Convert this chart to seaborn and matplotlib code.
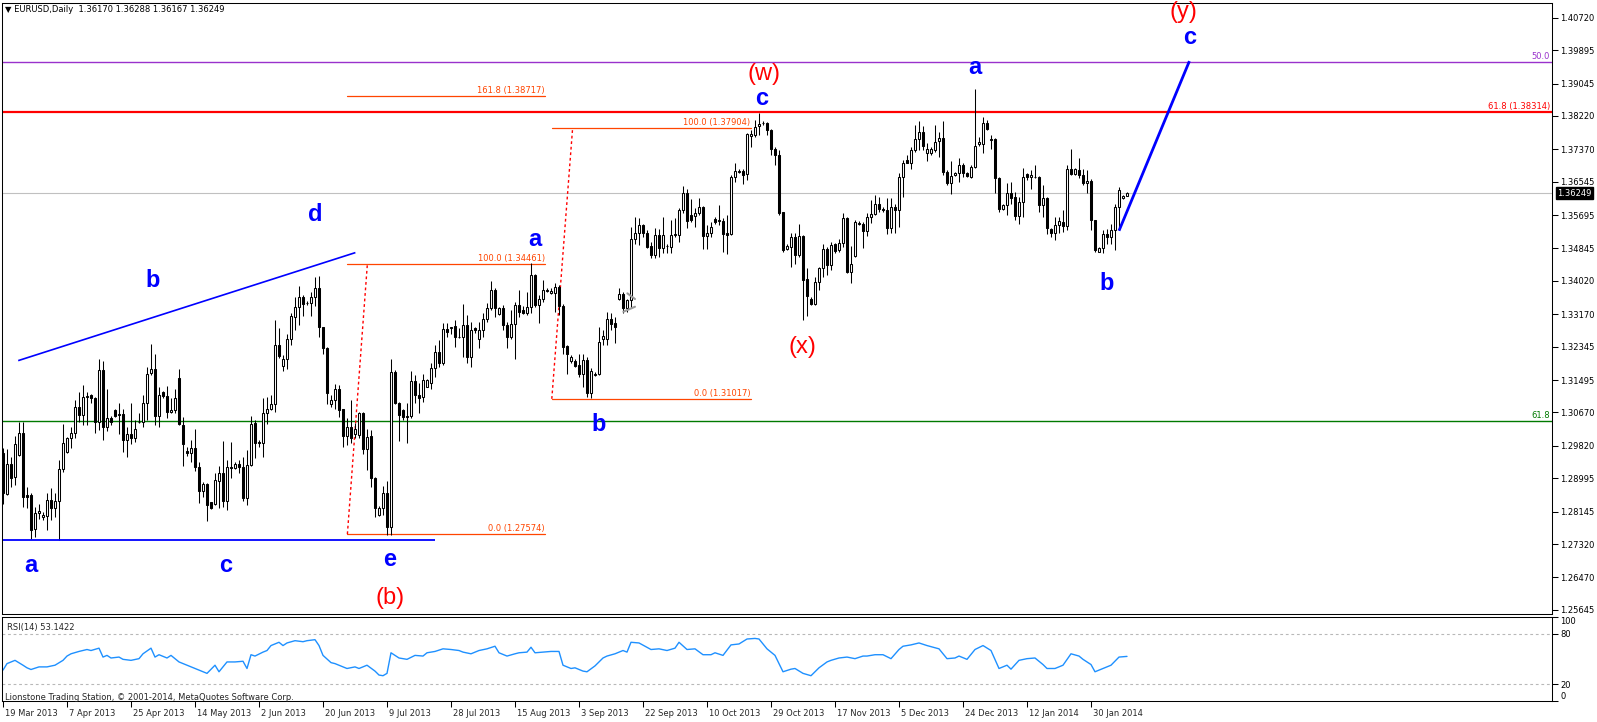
import numpy as np
import matplotlib
matplotlib.use("Agg")
import matplotlib.pyplot as plt
import matplotlib.transforms as mtransforms
import seaborn as sns

sns.set_theme(style="white")
plt.rcParams['font.family'] = ['DejaVu Sans']
plt.rcParams['axes.linewidth'] = 0.75

# ---------------- data ----------------
header_text = "\u25bc EURUSD,Daily  1.36170 1.36288 1.36167 1.36249"

opens = [
    1.2965, 1.2859, 1.2936, 1.2902, 1.2959, 1.3015, 1.2857, 1.2857, 1.2771, 1.2810,
    1.2800, 1.2803, 1.2844, 1.2823, 1.2841, 1.2922, 1.2967, 1.3001, 1.3014, 1.3080,
    1.3060, 1.3107, 1.3111, 1.3103, 1.3043, 1.3175, 1.3029, 1.3054, 1.3073, 1.3060,
    1.3063, 1.2998, 1.3011, 1.3001, 1.3042, 1.3042, 1.3092, 1.3167, 1.3177, 1.3059,
    1.3118, 1.3109, 1.3069, 1.3073, 1.3156, 1.3035, 1.2969, 1.2963, 1.2976, 1.2929,
    1.2868, 1.2884, 1.2838, 1.2835, 1.2893, 1.2912, 1.2842, 1.2929, 1.2926, 1.2935,
    1.2927, 1.2850, 1.2933, 1.3039, 1.2992, 1.2988, 1.3066, 1.3075, 1.3088, 1.3239,
    1.3185, 1.3202, 1.3253, 1.3311, 1.3336, 1.3362, 1.3345, 1.3345, 1.3360, 1.3383,
    1.3284, 1.3230, 1.3088, 1.3100, 1.3128, 1.3075, 1.3007, 1.3029, 1.3012, 1.3009,
    1.3066, 1.2973, 1.3007, 1.2899, 1.2806, 1.2824, 1.2863, 1.2776, 1.3171, 1.3092,
    1.3073, 1.3056, 1.3058, 1.3148, 1.3111, 1.3107, 1.3132, 1.3143, 1.3179, 1.3220,
    1.3192, 1.3279, 1.3283, 1.3287, 1.3260, 1.3258, 1.3290, 1.3209, 1.3281, 1.3253,
    1.3277, 1.3304, 1.3332, 1.3379, 1.3317, 1.3332, 1.3290, 1.3258, 1.3292, 1.3340,
    1.3329, 1.3319, 1.3335, 1.3417, 1.3340, 1.3357, 1.3380, 1.3370, 1.3370, 1.3387,
    1.3338, 1.3236, 1.3199, 1.3199, 1.3188, 1.3166, 1.3200, 1.3116, 1.3162, 1.3166,
    1.3253, 1.3253, 1.3304, 1.3295, 1.3356, 1.3368, 1.3332, 1.3353, 1.3508, 1.3525,
    1.3544, 1.3525, 1.3491, 1.3468, 1.3519, 1.3485, 1.3492, 1.3489, 1.3519, 1.3519,
    1.3582, 1.3625, 1.3570, 1.3567, 1.3574, 1.3589, 1.3516, 1.3525, 1.3560, 1.3555,
    1.3555, 1.3525, 1.3521, 1.3666, 1.3680, 1.3682, 1.3674, 1.3771, 1.3773, 1.3796,
    1.3803, 1.3803, 1.3786, 1.3739, 1.3722, 1.3578, 1.3484, 1.3489, 1.3513, 1.3468,
    1.3516, 1.3406, 1.3356, 1.3343, 1.3400, 1.3434, 1.3482, 1.3442, 1.3496, 1.3480,
    1.3499, 1.3561, 1.3425, 1.3465, 1.3548, 1.3548, 1.3530, 1.3564, 1.3572, 1.3599,
    1.3584, 1.3582, 1.3537, 1.3589, 1.3582, 1.3666, 1.3711, 1.3703, 1.3735, 1.3762,
    1.3782, 1.3727, 1.3727, 1.3735, 1.3759, 1.3767, 1.3680, 1.3652, 1.3671, 1.3676,
    1.3697, 1.3676, 1.3667, 1.3691, 1.3750, 1.3750, 1.3805, 1.3762, 1.3762, 1.3663,
    1.3584, 1.3595, 1.3626, 1.3616, 1.3567, 1.3604, 1.3674, 1.3666, 1.3667, 1.3666,
    1.3595, 1.3612, 1.3533, 1.3525, 1.3544, 1.3553, 1.3542, 1.3686, 1.3674, 1.3684,
    1.3672, 1.3650, 1.3657, 1.3557, 1.3476, 1.3485, 1.3521, 1.3514, 1.3531, 1.3591,
    1.3612, 1.3617,
]
highs = [
    1.2976, 1.2973, 1.2954, 1.3007, 1.3043, 1.3043, 1.2878, 1.2863, 1.2827, 1.2833,
    1.2814, 1.2861, 1.2874, 1.2861, 1.2946, 1.3038, 1.3005, 1.3031, 1.3100, 1.3120,
    1.3137, 1.3120, 1.3114, 1.3107, 1.3202, 1.3199, 1.3126, 1.3058, 1.3077, 1.3090,
    1.3077, 1.3031, 1.3090, 1.3048, 1.3065, 1.3111, 1.3184, 1.3241, 1.3216, 1.3133,
    1.3122, 1.3134, 1.3103, 1.3128, 1.3177, 1.3056, 1.2980, 1.2997, 1.3026, 1.2942,
    1.2891, 1.2888, 1.2840, 1.2912, 1.2930, 1.2995, 1.2946, 1.2992, 1.2941, 1.2946,
    1.2953, 1.2971, 1.3058, 1.3048, 1.2997, 1.3103, 1.3107, 1.3111, 1.3302, 1.3281,
    1.3213, 1.3268, 1.3319, 1.3362, 1.3389, 1.3366, 1.3352, 1.3374, 1.3413, 1.3414,
    1.3285, 1.3233, 1.3111, 1.3139, 1.3137, 1.3077, 1.3052, 1.3099, 1.3041, 1.3069,
    1.3069, 1.3024, 1.3022, 1.2902, 1.2830, 1.2880, 1.2893, 1.3202, 1.3175, 1.3094,
    1.3075, 1.3090, 1.3173, 1.3162, 1.3141, 1.3165, 1.3152, 1.3192, 1.3239, 1.3251,
    1.3294, 1.3295, 1.3284, 1.3302, 1.3281, 1.3343, 1.3315, 1.3298, 1.3285, 1.3298,
    1.3319, 1.3345, 1.3402, 1.3383, 1.3336, 1.3340, 1.3298, 1.3329, 1.3349, 1.3380,
    1.3338, 1.3374, 1.3447, 1.3420, 1.3366, 1.3404, 1.3385, 1.3383, 1.3397, 1.3391,
    1.3343, 1.3239, 1.3213, 1.3202, 1.3217, 1.3217, 1.3209, 1.3179, 1.3171, 1.3285,
    1.3277, 1.3323, 1.3319, 1.3311, 1.3383, 1.3374, 1.3356, 1.3540, 1.3565, 1.3561,
    1.3547, 1.3531, 1.3502, 1.3536, 1.3533, 1.3565, 1.3496, 1.3557, 1.3561, 1.3587,
    1.3644, 1.3635, 1.3610, 1.3587, 1.3612, 1.3593, 1.3544, 1.3553, 1.3565, 1.3595,
    1.3561, 1.3570, 1.3672, 1.3703, 1.3686, 1.3688, 1.3779, 1.3786, 1.3812, 1.3829,
    1.3810, 1.3807, 1.3788, 1.3744, 1.3735, 1.3578, 1.3496, 1.3523, 1.3523, 1.3547,
    1.3518, 1.3436, 1.3362, 1.3412, 1.3438, 1.3496, 1.3489, 1.3502, 1.3499, 1.3508,
    1.3574, 1.3564, 1.3491, 1.3557, 1.3555, 1.3553, 1.3574, 1.3608, 1.3621, 1.3616,
    1.3591, 1.3612, 1.3612, 1.3599, 1.3676, 1.3710, 1.3722, 1.3744, 1.3799, 1.3810,
    1.3796, 1.3752, 1.3742, 1.3799, 1.3782, 1.3810, 1.3684, 1.3706, 1.3680, 1.3714,
    1.3701, 1.3680, 1.3697, 1.3890, 1.3769, 1.3820, 1.3812, 1.3773, 1.3765, 1.3666,
    1.3599, 1.3650, 1.3654, 1.3629, 1.3616, 1.3689, 1.3677, 1.3684, 1.3697, 1.3669,
    1.3646, 1.3616, 1.3536, 1.3565, 1.3565, 1.3582, 1.3697, 1.3737, 1.3689, 1.3714,
    1.3686, 1.3684, 1.3661, 1.3557, 1.3489, 1.3531, 1.3533, 1.3547, 1.3599, 1.3642,
    1.3621, 1.3629,
]
lows = [
    1.2835, 1.2857, 1.2876, 1.2882, 1.2956, 1.2827, 1.2823, 1.2746, 1.2751, 1.2795,
    1.2793, 1.2768, 1.2793, 1.2801, 1.2742, 1.2916, 1.2963, 1.2976, 1.3001, 1.3043,
    1.3035, 1.3035, 1.3092, 1.3015, 1.3022, 1.2998, 1.3021, 1.3035, 1.3056, 1.3012,
    1.2967, 1.2953, 1.2987, 1.2993, 1.3039, 1.3029, 1.3048, 1.3162, 1.3035, 1.3029,
    1.3105, 1.3052, 1.3065, 1.3065, 1.3035, 1.2931, 1.2956, 1.2942, 1.2918, 1.2837,
    1.2852, 1.2791, 1.2820, 1.2831, 1.2825, 1.2827, 1.2818, 1.2899, 1.2924, 1.2912,
    1.2842, 1.2831, 1.2930, 1.2950, 1.2980, 1.2953, 1.3037, 1.3073, 1.3069, 1.3205,
    1.3173, 1.3177, 1.3239, 1.3277, 1.3290, 1.3313, 1.3340, 1.3313, 1.3338, 1.3258,
    1.3216, 1.3088, 1.3082, 1.3075, 1.3056, 1.2980, 1.2984, 1.2988, 1.3001, 1.3003,
    1.2961, 1.2920, 1.2878, 1.2801, 1.2803, 1.2806, 1.2755, 1.2755, 1.3088, 1.2995,
    1.3049, 1.2988, 1.3054, 1.3090, 1.3065, 1.3094, 1.3131, 1.3128, 1.3158, 1.3184,
    1.3188, 1.3258, 1.3268, 1.3234, 1.3256, 1.3209, 1.3192, 1.3184, 1.3270, 1.3230,
    1.3258, 1.3298, 1.3328, 1.3311, 1.3315, 1.3277, 1.3230, 1.3253, 1.3202, 1.3311,
    1.3318, 1.3315, 1.3321, 1.3336, 1.3294, 1.3349, 1.3374, 1.3368, 1.3323, 1.3315,
    1.3217, 1.3166, 1.3192, 1.3184, 1.3158, 1.3132, 1.3107, 1.3103, 1.3160, 1.3162,
    1.3240, 1.3240, 1.3277, 1.3245, 1.3353, 1.3319, 1.3323, 1.3332, 1.3496, 1.3493,
    1.3514, 1.3487, 1.3459, 1.3459, 1.3464, 1.3472, 1.3474, 1.3472, 1.3514, 1.3502,
    1.3574, 1.3536, 1.3553, 1.3540, 1.3570, 1.3482, 1.3482, 1.3514, 1.3547, 1.3544,
    1.3476, 1.3470, 1.3519, 1.3655, 1.3677, 1.3649, 1.3659, 1.3744, 1.3769, 1.3773,
    1.3799, 1.3773, 1.3722, 1.3698, 1.3570, 1.3476, 1.3480, 1.3438, 1.3445, 1.3462,
    1.3302, 1.3312, 1.3340, 1.3340, 1.3379, 1.3411, 1.3417, 1.3429, 1.3474, 1.3476,
    1.3489, 1.3421, 1.3396, 1.3464, 1.3544, 1.3487, 1.3516, 1.3550, 1.3570, 1.3578,
    1.3578, 1.3521, 1.3523, 1.3525, 1.3540, 1.3616, 1.3701, 1.3688, 1.3731, 1.3735,
    1.3735, 1.3706, 1.3722, 1.3731, 1.3718, 1.3672, 1.3646, 1.3623, 1.3669, 1.3654,
    1.3667, 1.3666, 1.3663, 1.3689, 1.3745, 1.3728, 1.3786, 1.3739, 1.3626, 1.3578,
    1.3582, 1.3570, 1.3599, 1.3557, 1.3547, 1.3565, 1.3659, 1.3637, 1.3663, 1.3578,
    1.3565, 1.3521, 1.3514, 1.3506, 1.3523, 1.3527, 1.3531, 1.3672, 1.3672, 1.3663,
    1.3646, 1.3625, 1.3531, 1.3476, 1.3476, 1.3474, 1.3497, 1.3497, 1.3481, 1.3531,
    1.3610, 1.3617,
]
closes = [
    1.2861, 1.2936, 1.2899, 1.2987, 1.3015, 1.2852, 1.2852, 1.2769, 1.2810, 1.2816,
    1.2806, 1.2844, 1.2823, 1.2842, 1.2922, 1.2988, 1.3001, 1.3014, 1.3080, 1.3060,
    1.3107, 1.3109, 1.3103, 1.3043, 1.3175, 1.3029, 1.3054, 1.3043, 1.3058, 1.3063,
    1.2997, 1.3011, 1.3001, 1.3024, 1.3043, 1.3092, 1.3164, 1.3177, 1.3059, 1.3111,
    1.3109, 1.3069, 1.3073, 1.3103, 1.3037, 1.2986, 1.2963, 1.2976, 1.2929, 1.2868,
    1.2884, 1.2831, 1.2824, 1.2895, 1.2912, 1.2842, 1.2927, 1.2926, 1.2935, 1.2927,
    1.2848, 1.2933, 1.3037, 1.2990, 1.2988, 1.3066, 1.3075, 1.3088, 1.3239, 1.3211,
    1.3202, 1.3253, 1.3313, 1.3336, 1.3362, 1.3343, 1.3346, 1.3360, 1.3383, 1.3284,
    1.3230, 1.3116, 1.3100, 1.3128, 1.3073, 1.3007, 1.3029, 1.3003, 1.3026, 1.3066,
    1.2973, 1.3005, 1.2899, 1.2823, 1.2824, 1.2863, 1.2776, 1.3171, 1.3092, 1.3060,
    1.3056, 1.3058, 1.3148, 1.3111, 1.3105, 1.3150, 1.3150, 1.3179, 1.3220, 1.3192,
    1.3279, 1.3273, 1.3284, 1.3258, 1.3258, 1.3290, 1.3209, 1.3277, 1.3277, 1.3277,
    1.3304, 1.3332, 1.3379, 1.3332, 1.3332, 1.3290, 1.3258, 1.3292, 1.3340, 1.3323,
    1.3319, 1.3335, 1.3417, 1.3340, 1.3357, 1.3380, 1.3377, 1.3377, 1.3387, 1.3338,
    1.3234, 1.3216, 1.3209, 1.3185, 1.3166, 1.3200, 1.3116, 1.3173, 1.3166, 1.3247,
    1.3261, 1.3304, 1.3292, 1.3285, 1.3368, 1.3332, 1.3353, 1.3508, 1.3525, 1.3544,
    1.3525, 1.3489, 1.3468, 1.3519, 1.3485, 1.3519, 1.3490, 1.3519, 1.3521, 1.3582,
    1.3625, 1.3555, 1.3558, 1.3574, 1.3589, 1.3516, 1.3525, 1.3540, 1.3553, 1.3557,
    1.3521, 1.3519, 1.3666, 1.3683, 1.3683, 1.3672, 1.3776, 1.3776, 1.3795, 1.3801,
    1.3805, 1.3786, 1.3739, 1.3722, 1.3576, 1.3480, 1.3491, 1.3513, 1.3468, 1.3516,
    1.3404, 1.3363, 1.3343, 1.3400, 1.3434, 1.3482, 1.3442, 1.3493, 1.3479, 1.3499,
    1.3561, 1.3425, 1.3446, 1.3553, 1.3550, 1.3530, 1.3564, 1.3572, 1.3599, 1.3584,
    1.3582, 1.3536, 1.3589, 1.3582, 1.3666, 1.3701, 1.3703, 1.3735, 1.3762, 1.3782,
    1.3745, 1.3737, 1.3737, 1.3756, 1.3767, 1.3680, 1.3652, 1.3669, 1.3676, 1.3697,
    1.3676, 1.3669, 1.3691, 1.3745, 1.3756, 1.3805, 1.3788, 1.3761, 1.3663, 1.3584,
    1.3595, 1.3626, 1.3612, 1.3567, 1.3604, 1.3666, 1.3667, 1.3672, 1.3666, 1.3595,
    1.3612, 1.3536, 1.3523, 1.3544, 1.3555, 1.3542, 1.3686, 1.3674, 1.3686, 1.3672,
    1.3652, 1.3657, 1.3557, 1.3481, 1.3485, 1.3521, 1.3513, 1.3531, 1.3591, 1.3633,
    1.3618, 1.3625,
]

date_tick_bars = [0, 16, 32, 48, 64, 80, 96, 112, 128, 144, 160, 176, 192, 208, 224, 240, 256, 272]
date_labels = ["19 Mar 2013", "7 Apr 2013", "25 Apr 2013", "14 May 2013", "2 Jun 2013",
               "20 Jun 2013", "9 Jul 2013", "28 Jul 2013", "15 Aug 2013", "3 Sep 2013",
               "22 Sep 2013", "10 Oct 2013", "29 Oct 2013", "17 Nov 2013", "5 Dec 2013",
               "24 Dec 2013", "12 Jan 2014", "30 Jan 2014"]

price_ticks = [1.40720, 1.39895, 1.39045, 1.38220, 1.37370, 1.36545, 1.35695, 1.34845,
               1.34020, 1.33170, 1.32345, 1.31495, 1.30670, 1.29820, 1.28995, 1.28145,
               1.27320, 1.26470, 1.25645]
last_price = 1.36249

rsi_readings = [
    (0, 36.8), (1, 44.5), (3, 48.4), (5, 42.6), (6, 39.5), (7, 37.5), (9, 40.6), (11, 40.6),
    (13, 42.6), (15, 48.4), (16, 53.5), (17, 56.2), (19, 59.0), (21, 61.3), (22, 60.1),
    (24, 62.9), (25, 52.3), (26, 54.3), (27, 51.2), (29, 52.3), (30, 49.6), (32, 48.4),
    (34, 50.4), (35, 56.2), (37, 62.9), (38, 52.3), (39, 55.1), (41, 51.2), (42, 54.3),
    (44, 46.5), (46, 42.6), (48, 38.7), (49, 36.8), (51, 32.9), (53, 42.6), (54, 34.8),
    (56, 46.5), (58, 46.5), (60, 47.3), (61, 38.7), (62, 55.1), (63, 53.5), (65, 58.2),
    (66, 60.1), (67, 66.0), (69, 69.9), (70, 66.0), (71, 69.1), (73, 71.8), (75, 70.6),
    (76, 71.8), (78, 73.0), (79, 66.0), (80, 54.3), (82, 45.7), (83, 44.5), (85, 40.6),
    (86, 38.7), (88, 40.6), (89, 38.7), (91, 42.6), (93, 35.6), (94, 30.9), (95, 30.1),
    (96, 32.9), (97, 57.4), (99, 51.2), (101, 49.6), (103, 54.3), (105, 53.5), (106, 57.4),
    (108, 59.0), (110, 62.1), (112, 61.3), (114, 60.1), (115, 58.2), (117, 56.2), (119, 60.1),
    (121, 62.1), (123, 65.2), (124, 57.4), (126, 53.5), (128, 56.2), (129, 57.4), (131, 58.2),
    (132, 64.0), (133, 57.4), (135, 58.2), (137, 59.0), (139, 59.0), (140, 42.6), (142, 38.7),
    (143, 39.5), (145, 35.6), (146, 34.8), (148, 41.8), (150, 51.2), (151, 53.5), (153, 56.2),
    (155, 60.1), (156, 58.2), (157, 69.9), (159, 69.1), (161, 64.0), (162, 61.3), (164, 62.1),
    (166, 60.1), (168, 62.9), (169, 69.9), (171, 61.3), (173, 62.1), (175, 55.1), (177, 55.1),
    (178, 57.4), (180, 54.3), (182, 66.8), (184, 67.9), (186, 73.8), (188, 74.5), (189, 73.8),
    (191, 62.1), (193, 54.3), (195, 34.8), (197, 37.9), (198, 38.7), (200, 32.9), (202, 30.1),
    (204, 39.5), (206, 46.5), (207, 48.4), (209, 51.2), (211, 52.3), (213, 50.4), (215, 53.5),
    (216, 53.5), (218, 55.1), (220, 55.1), (222, 50.4), (224, 61.3), (225, 65.2), (227, 66.8),
    (229, 69.1), (231, 66.0), (234, 62.1), (236, 50.4), (238, 51.2), (239, 53.5), (241, 49.6),
    (243, 61.3), (245, 66.0), (247, 60.1), (249, 38.7), (251, 42.6), (252, 37.9), (254, 48.4),
    (256, 50.4), (258, 51.2), (260, 43.4), (261, 38.7), (263, 38.7), (265, 42.6), (267, 56.2),
    (269, 53.5), (270, 49.6), (272, 43.4), (273, 34.8), (275, 38.7), (277, 42.6), (279, 52.3),
    (281, 53.1),
]
rsi_label = "RSI(14) 53.1422"

# chart objects (bar index, price)
fib1_span = (86.0, 135.5)
fib1_levels = [1.27574, 1.34461, 1.38717]
fib1_names = ["0.0", "100.0", "161.8"]
fib1_anchor = [(86.1, 1.27574), (91.1, 1.34461)]
fib2_span = (137.2, 186.9)
fib2_levels = [1.31017, 1.37904]
fib2_names = ["0.0", "100.0"]
fib2_anchor = [(137.2, 1.31017), (142.4, 1.37904)]

level_purple = 1.3959
level_red = 1.38314
level_green = 1.3045

wedge_low = [(0.0, 1.2742), (108.0, 1.2742)]
wedge_up = [(3.8, 1.3199), (88.1, 1.3474)]
proj_line = [(279.0, 1.35297), (296.6, 1.39615)]
gap_marks = [[(155.1, 1.33235), (158.0, 1.33362)], [(156.1, 1.33703), (158.0, 1.33558)]]

blue_labels = [("a", 6.9, 1.2678), ("b", 37.4, 1.3404), ("c", 55.75, 1.2678),
               ("d", 78.0, 1.3570), ("e", 96.75, 1.2693), ("a", 132.9, 1.3507),
               ("b", 149.0, 1.3036), ("c", 189.7, 1.3866), ("a", 242.9, 1.3946),
               ("b", 275.9, 1.3396), ("c", 296.6, 1.4021)]
red_labels = [("(b)", 96.75, 1.2595), ("(w)", 190.2, 1.3928), ("(x)", 199.9, 1.3233),
              ("(y)", 295.1, 1.4086)]

# ---------------- figure ----------------
W, H = 1597, 722
fig = plt.figure(figsize=(W / 100, H / 100), dpi=100)
fig.patch.set_facecolor("white")
ax = fig.add_axes([2 / W, 1 - 614 / H, 1550 / W, 611 / H])
ax2 = fig.add_axes([2 / W, 1 - 701 / H, 1550 / W, 84 / H])
for a in (ax, ax2):
    a.set_facecolor("white")
    for s in a.spines.values():
        s.set_color("black")
        s.set_linewidth(0.75)
    a.set_xlim(-0.25, 387.25)

ax.set_ylim(1.25539, 1.41095)

o = np.array(opens); h = np.array(highs); l = np.array(lows); c = np.array(closes)
x = np.arange(len(c))
lo_w = np.minimum(l, np.minimum(o, c))
hi_w = np.maximum(h, np.maximum(o, c))
ax.vlines(x, lo_w, hi_w, colors="black", linewidth=0.75, zorder=3)
up = c >= o
bottom = np.minimum(o, c)
height = np.maximum(np.abs(c - o), 0.00002)
ax.bar(x[up], height[up], bottom=bottom[up], width=0.5, color="white",
       edgecolor="black", linewidth=0.75, zorder=4)
ax.bar(x[~up], height[~up], bottom=bottom[~up], width=0.5, color="black",
       edgecolor="black", linewidth=0.75, zorder=4)

# horizontal levels
ax.axhline(last_price, color="#C0C0C0", lw=0.8, zorder=1)
ax.axhline(level_purple, color="#9932CC", lw=1.0, zorder=2)
ax.axhline(level_red, color="#FF0000", lw=1.6, zorder=2)
ax.axhline(level_green, color="#007A00", lw=1.0, zorder=2)
tr_r = mtransforms.offset_copy(mtransforms.blended_transform_factory(ax.transAxes, ax.transData),
                               fig=fig, x=-2, y=1, units="dots")
ax.text(1.0, level_purple, "50.0", transform=tr_r, ha="right", va="bottom",
        color="#9932CC", fontsize=6)
ax.text(1.0, level_red, "61.8 (1.38314)", transform=tr_r, ha="right", va="bottom",
        color="#FF0000", fontsize=6)
ax.text(1.0, level_green, "61.8", transform=tr_r, ha="right", va="bottom",
        color="#007A00", fontsize=6)

# fibonacci objects
fib_col = "#FF4500"
tr_f = mtransforms.offset_copy(ax.transData, fig=fig, x=0, y=1, units="dots")
for span, levels, names, anchor in ((fib1_span, fib1_levels, fib1_names, fib1_anchor),
                                    (fib2_span, fib2_levels, fib2_names, fib2_anchor)):
    for lv, nm in zip(levels, names):
        ax.plot([span[0], span[1]], [lv, lv], color=fib_col, lw=0.9, zorder=2)
        ax.text(span[1], lv, f"{nm} ({lv:.5f})", transform=tr_f, ha="right", va="bottom",
                color=fib_col, fontsize=6, zorder=5)
    ax.plot([anchor[0][0], anchor[1][0]], [anchor[0][1], anchor[1][1]], color="#FF0000",
            lw=1.0, linestyle=(0, (2, 2)), zorder=2)

# trend lines
for seg, lw in ((wedge_low, 1.3), (wedge_up, 1.2), (proj_line, 2.0)):
    ax.plot([seg[0][0], seg[1][0]], [seg[0][1], seg[1][1]], color="#0000FF", lw=lw,
            zorder=5, solid_capstyle="butt")
for seg in gap_marks:
    ax.plot([seg[0][0], seg[1][0]], [seg[0][1], seg[1][1]], color="#9A9A9A", lw=1.5, zorder=5)

# wave labels
for t, xi, yi in blue_labels:
    ax.text(xi, yi, t, color="#0000FF", fontsize=17, fontweight="bold",
            family="Liberation Sans", ha="center", va="center", zorder=6, clip_on=False)
for t, xi, yi in red_labels:
    ax.text(xi, yi, t, color="#FF0000", fontsize=17, family="Liberation Sans",
            ha="center", va="center", zorder=6, clip_on=False)

# right price scale
ax.yaxis.tick_right()
ax.set_yticks(price_ticks)
ax.set_yticklabels([f"{v:.5f}" for v in price_ticks])
ax.tick_params(axis="y", which="both", right=True, left=False, length=4, width=0.75,
               direction="out", labelsize=6, pad=2, colors="black")
ax.set_xticks([])
tr_box = mtransforms.offset_copy(mtransforms.blended_transform_factory(ax.transAxes, ax.transData),
                                 fig=fig, x=5, y=0, units="dots")
ax.text(1.0, last_price, f"{last_price:.5f}", transform=tr_box, ha="left", va="center",
        color="white", fontsize=6, clip_on=False, zorder=10,
        bbox=dict(boxstyle="square,pad=0.18", facecolor="black", edgecolor="black"))

fig.text(5 / W, 1 - 10 / H, header_text, ha="left", va="center", fontsize=6, color="black")

# RSI panel
rsi_x = [p[0] for p in rsi_readings]
rsi_y = [p[1] for p in rsi_readings]
sns.lineplot(x=rsi_x, y=rsi_y, ax=ax2, color="#1E90FF", lw=1.0, estimator=None, sort=False)
ax2.set_ylim(0, 100)
ax2.set_xlim(-0.25, 387.25)
for lv in (80, 20):
    ax2.axhline(lv, color="#B8B8B8", lw=0.8, linestyle=(0, (2.5, 2.5)), zorder=1)
ax2.yaxis.tick_right()
ax2.set_yticks([0, 20, 80, 100])
ax2.set_yticklabels(["0", "20", "80", "100"])
ax2.tick_params(axis="y", right=True, left=False, length=4, width=0.75, direction="out",
                labelsize=6, pad=2, colors="black")
labs = ax2.get_yticklabels()
labs[0].set_va("bottom")
labs[-1].set_va("top")
ax2.set_ylabel("")
ax2.set_xticks(date_tick_bars)
ax2.tick_params(axis="x", bottom=True, length=4, width=0.75, direction="out",
                labelbottom=False, colors="black")
ax2.text(0.003, 0.87, rsi_label, transform=ax2.transAxes, ha="left", va="center", fontsize=6)
fig.text(5 / W, 1 - 697 / H, "Lionstone Trading Station, \u00a9 2001-2014, MetaQuotes Software Corp.",
         ha="left", va="center", fontsize=6)
tr_d = mtransforms.offset_copy(mtransforms.blended_transform_factory(ax2.transData, ax2.transAxes),
                               fig=fig, x=2, y=-12, units="dots")
for b, s in zip(date_tick_bars, date_labels):
    ax2.text(b, 0, s, transform=tr_d, ha="left", va="center", fontsize=6, clip_on=False)

fig.savefig("out.png", dpi=100)
